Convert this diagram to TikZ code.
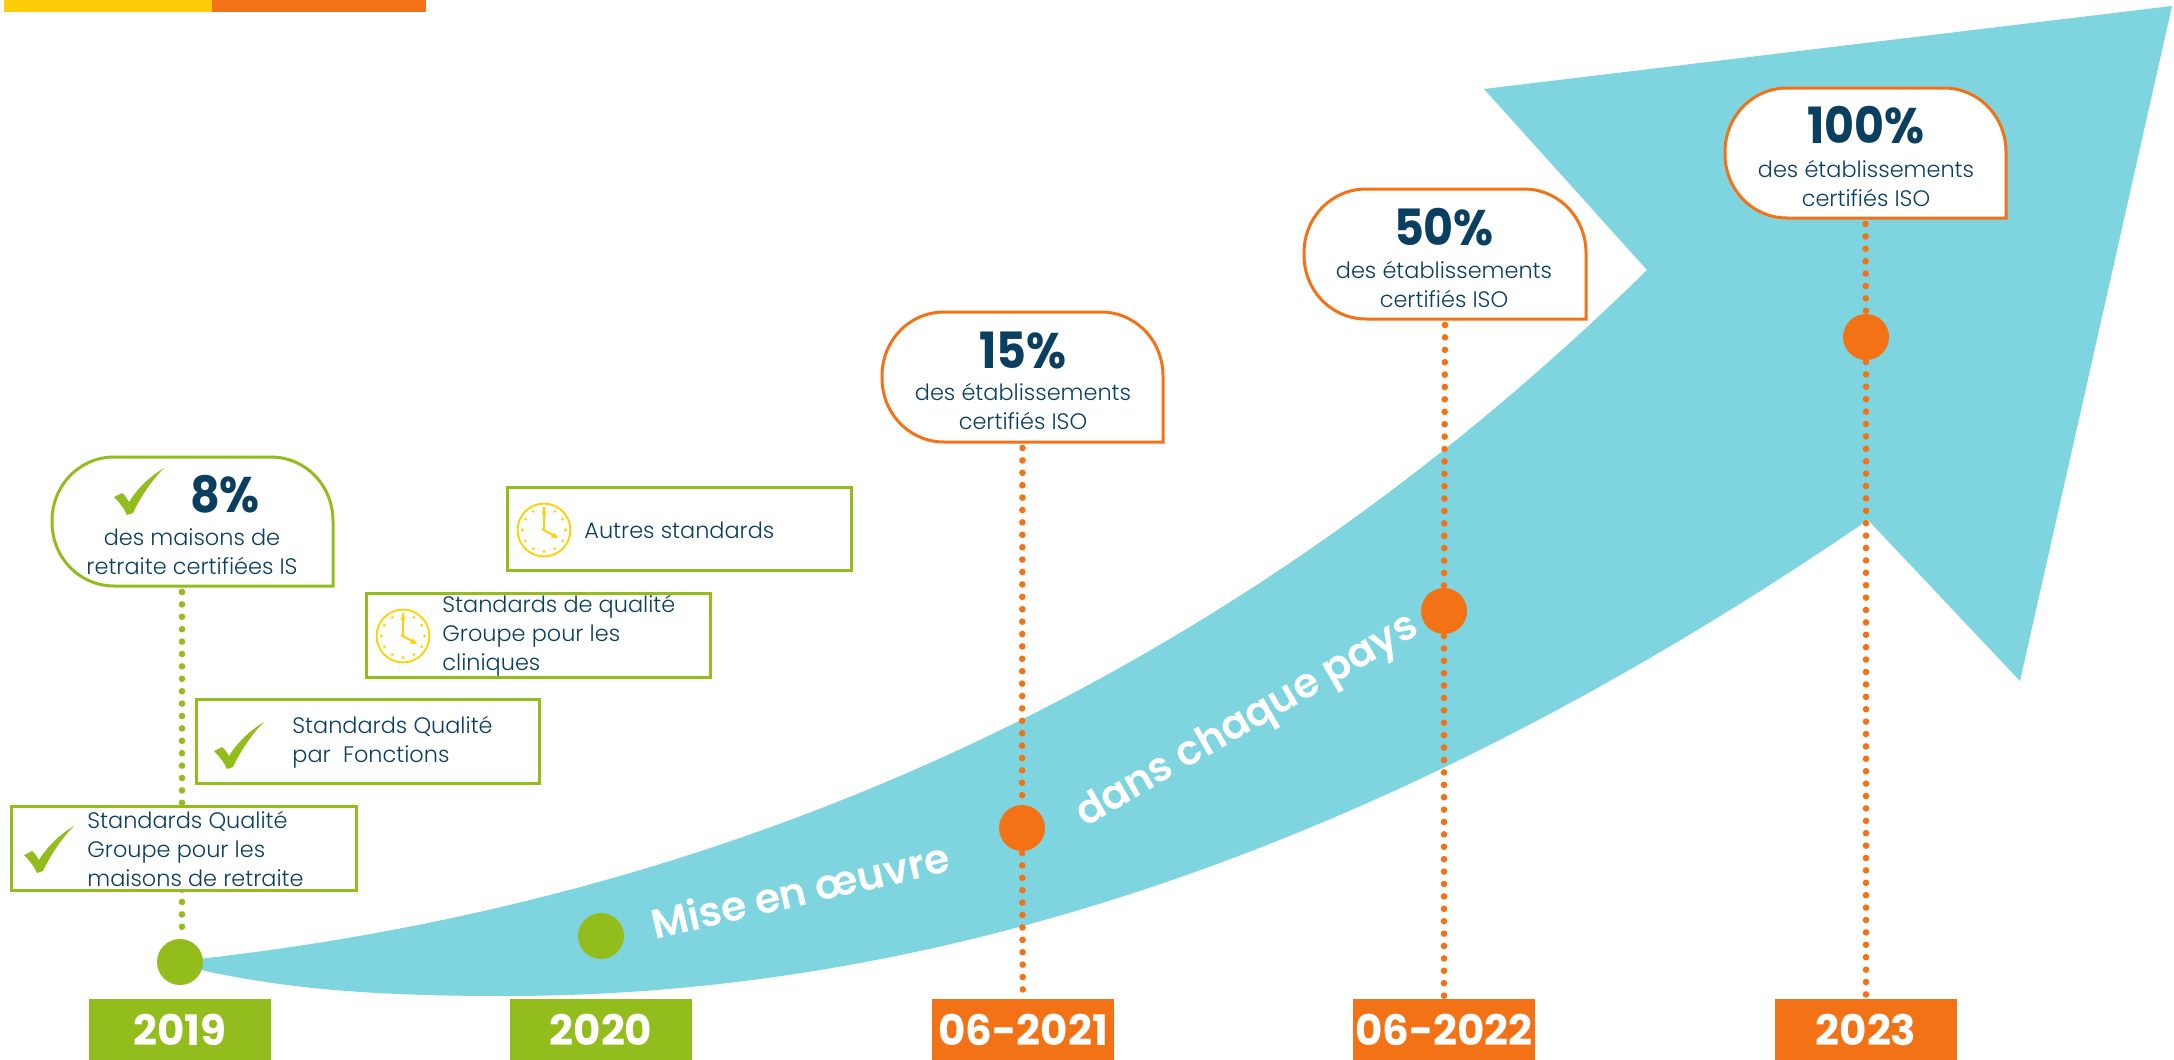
\documentclass[tikz,border=0pt]{standalone}
\usepackage{fontspec}
\setmainfont{Poppins}[UprightFont=* Light,BoldFont=* Bold,Scale=1.0]
\newfontfamily\headfont{Poppins}[FakeStretch=0.92]
\newfontfamily\slogfont{Poppins SemiBold}
\usetikzlibrary{fit,calc}
\definecolor{cgreen}{HTML}{93BD1D}
\definecolor{corange}{HTML}{F47216}
\definecolor{cteal}{HTML}{7FD5DF}
\definecolor{cnavy}{HTML}{0A3F5F}
\definecolor{cyellow}{HTML}{FFD100}
\definecolor{cbar}{HTML}{FFCC0A}
\tikzset{
  x=0.5pt,y=-0.5pt,
  area/.style={fit={#1},inner sep=0pt,outer sep=0pt},
  yearbox/.style={fill=#1},
  yeartext/.style={text=white,font=\fontsize{21}{24}\bfseries\selectfont,inner sep=0pt},
  stdbox/.style={draw=cgreen,line width=1.5pt,fill=white},
  calloutline/.style={draw=#1,line width=1.5pt,fill=white},
  bodytext/.style={text=cnavy,font=\fontsize{11.2}{14.5}\selectfont,inner sep=0pt},
  headtext/.style={text=cnavy,font=\headfont\fontsize{25}{28}\bfseries\selectfont,inner sep=0pt},
  dotline/.style={draw=#1,line width=3.3pt,line cap=round,dash pattern=on 0pt off 6.2pt},
  marker/.style={circle,fill=#1,minimum size=23pt,inner sep=0pt,outer sep=1pt},
  slogan/.style={text=white,font=\slogfont\fontsize{20.5}{23}\selectfont,inner sep=0pt}
}
\newcommand{\tickmark}[2]{%
  \fill[cgreen,shift={(#1,#2)}] (0,29) -- (8,25) .. controls (11,27) and (13,31) .. (15,34)
    .. controls (23,21) and (35,9) .. (50,0)
    .. controls (37,13) and (26,30) .. (19,45) -- (13,47)
    .. controls (10,40) and (5,34) .. (0,29) -- cycle;}
\newcommand{\clockmark}[2]{%
  \begin{scope}[shift={(#1,#2)}]
    \draw[cyellow,line width=0.9pt] (0,0) circle[radius=13.2pt];
    \foreach \a in {0,30,...,330}{\fill[cyellow] (\a:21.5) circle[radius=0.8pt];}
    \draw[cyellow,line width=1pt] (-1,0) -- (0,0) -- (0,-17);
    \fill[cyellow] (-2.5,-16) -- (0,-23) -- (2.5,-16) -- cycle;
    \draw[cyellow,line width=1pt] (-2,-1) -- (9,5);
    \fill[cyellow] (7,7.5) -- (14,8) -- (10,2.5) -- cycle;
  \end{scope}}
\newcommand{\calloutbox}[2]{%
  \draw[calloutline=#2]
    ([yshift=-32pt]#1.north west)
    .. controls ([yshift=-14pt]#1.north west) and ([xshift=14pt]#1.north west) .. ([xshift=31pt]#1.north west)
    -- ([xshift=-31pt]#1.north east)
    .. controls ([xshift=-14pt]#1.north east) and ([yshift=-14pt]#1.north east) .. ([yshift=-32pt]#1.north east)
    -- (#1.south east)
    -- ([xshift=31pt]#1.south west)
    .. controls ([xshift=14pt]#1.south west) and ([yshift=14pt]#1.south west) .. ([yshift=32pt]#1.south west)
    -- cycle;}
\begin{document}
\begin{tikzpicture}
\useasboundingbox (0,0) rectangle (2174,1060);
\fill[white] (0,0) rectangle (2174,1060);
% top bar
\fill[cbar] (4,0) rectangle (212,12);
\fill[corange] (212,0) rectangle (426,12);
% arrow
\fill[cteal] (180,961) .. controls (760,900) and (1250,660) .. (1647,270)
  -- (1484,89) -- (2172,6) -- (2020,681) -- (1868,520)
  .. controls (1400,840) and (950,996) .. (505,996)
  .. controls (380,996) and (280,990) .. (180,965) -- cycle;
% year boxes
\node[area={(89,999)(271,1060)},yearbox=cgreen] (y19) {};
\node[area={(510,999)(692,1060)},yearbox=cgreen] (y20) {};
\node[area={(932,999)(1114,1060)},yearbox=corange] (y21) {};
\node[area={(1353,999)(1535,1060)},yearbox=corange] (y22) {};
\node[area={(1775,999)(1957,1060)},yearbox=corange] (y23) {};
\node[yeartext] (l19) at (y19.center) {2019};
\node[yeartext] (l20) at (y20.center) {2020};
\node[yeartext] (l21) at (y21.center) {06-2021};
\node[yeartext] (l22) at (y22.center) {06-2022};
\node[yeartext] (l23) at (y23.center) {2023};
% callout frames
\node[area={(52,457)(333,586)}] (c19) {};
\node[area={(882,312)(1163,442)}] (c21) {};
\node[area={(1304,189)(1586,319)}] (c22) {};
\node[area={(1725,88)(2006,218)}] (c23) {};
% markers
\node[marker=cgreen] (d19) at (180,962) {};
\node[marker=cgreen] (d20) at (601,936) {};
\node[marker=corange] (d21) at (1022,828) {};
\node[marker=corange] (d22) at (1444,611) {};
\node[marker=corange] (d23) at (1866,337) {};
% connectors
\draw[dotline=cgreen] ([yshift=-3pt,xshift=1pt]c19.south -| d19) -- ([xshift=1pt]d19.north);
\draw[dotline=corange] ([yshift=-3pt]c21.south) -- (d21);
\draw[dotline=corange] (d21) -- (y21);
\draw[dotline=corange] ([yshift=-3pt]c22.south) -- (d22);
\draw[dotline=corange] (d22) -- (y22);
\draw[dotline=corange] ([yshift=-3pt]c23.south) -- (d23);
\draw[dotline=corange] (d23) -- (y23);
% callouts
\calloutbox{c19}{cgreen}
\calloutbox{c21}{corange}
\calloutbox{c22}{corange}
\calloutbox{c23}{corange}
\tickmark{114}{468}
\node[headtext] (h19) at (225,494) {8\%};
\node[bodytext,align=center] (t19) at (192,552) {des maisons de\\retraite certifiées IS};
\node[headtext] (h21) at (1023,350) {15\%};
\node[bodytext,align=center] (t21) at (1023,406) {des établissements\\certifiés ISO};
\node[headtext] (h22) at (1444,227) {50\%};
\node[bodytext,align=center] (t22) at (1444,284) {des établissements\\certifiés ISO};
\node[headtext] (h23) at (1866,125) {100\%};
\node[bodytext,align=center] (t23) at (1866,183) {des établissements\\certifiés ISO};
% standards boxes
\node[area={(507,487)(851,570)},stdbox] (b4) {};
\clockmark{544}{530}
\node[bodytext,anchor=west] (s4) at (584,530) {Autres standards};
\node[area={(366,593)(710,677)},stdbox] (b3) {};
\clockmark{403}{636}
\node[bodytext,anchor=west,align=left] (s3) at (442,636) {Standards de qualité\\Groupe pour les\\cliniques};
\node[area={(196,699)(539,783)},stdbox] (b2) {};
\tickmark{214}{722}
\node[bodytext,anchor=west,align=left] (s2) at (292,742) {Standards Qualité\\par\ \ Fonctions};
\node[area={(11,806)(356,890)},stdbox] (b1) {};
\tickmark{24}{826}
\node[bodytext,anchor=west,align=left] (s1) at (87,849) {Standards Qualité\\Groupe pour les\\maisons de retraite};
% slogans
\node[slogan,rotate=13] (m1) at (800,890) {Mise en œuvre};
\node[slogan,rotate=30] (m2) at (1248,722) {dans chaque pays};
\end{tikzpicture}
\end{document}
